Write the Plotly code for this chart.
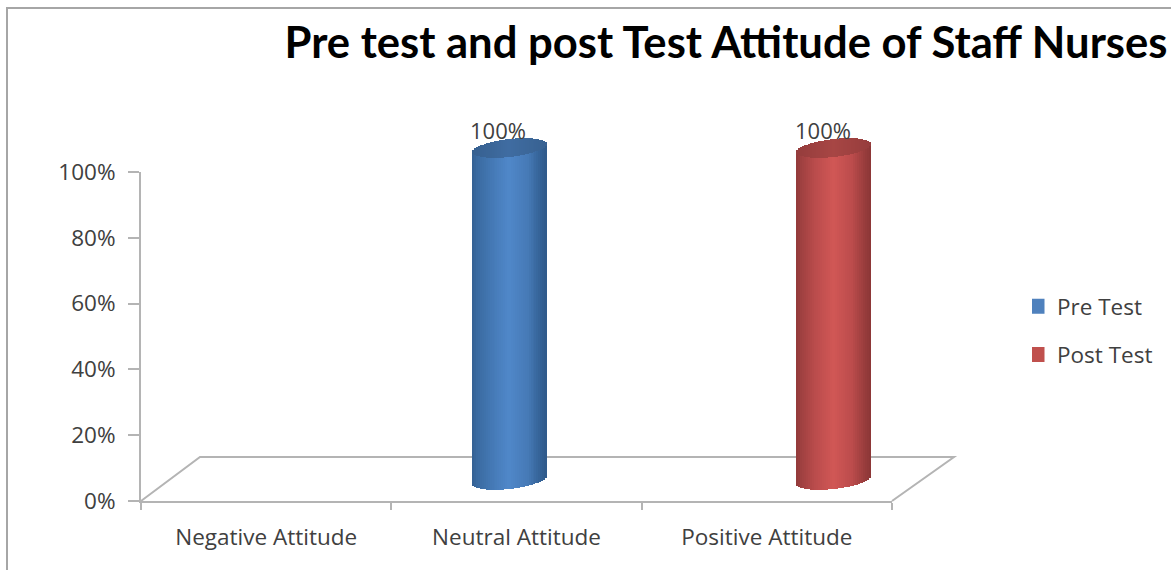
import numpy as np
import plotly.graph_objects as go

# ---- data ----
categories = ["Negative Attitude", "Neutral Attitude", "Positive Attitude"]
pre_test = [0, 100, 0]
post_test = [0, 0, 100]
y_ticks = [0, 20, 40, 60, 80, 100]
y_labels = ["0%", "20%", "40%", "60%", "80%", "100%"]
title_text = "Pre test and post Test Attitude of Staff Nurses"

# ---- layout constants (pixels) ----
W, H = 1171, 570
AX_L, AX_R, AX_T, AX_B = 141, 892, 172, 501
DX = 30                # sideways shift of the 3-D bars
Y0_PX, Y100_PX = 480, 148
BAR_W = 0.296
N = 38
RY = 9 * 100 / (Y0_PX - Y100_PX)
TILT = 4 * 100 / (Y0_PX - Y100_PX)
FONT = "Open Sans"
INK = "#404040"
GRID = "#b4b4b4"

STOP_T = [0, 0.06, 0.25, 0.5, 0.75, 0.93, 1]
BLUE = [(52, 96, 146), (58, 106, 160), (68, 120, 180), (80, 136, 202), (70, 122, 182), (52, 98, 150), (48, 90, 138)]
RED = [(146, 58, 58), (158, 64, 64), (186, 76, 76), (210, 88, 86), (188, 76, 76), (150, 60, 60), (140, 54, 54)]
CAP = 0.8


def shade(stops, t, k=1.0):
    rgb = [np.interp(t, STOP_T, [s[i] for s in stops]) * k for i in range(3)]
    return "rgb(%d,%d,%d)" % tuple(int(v) for v in rgb)


def cylinder(values, side, stops):
    """Body and cap slices of the cylinders for one series."""
    body = dict(x=[], y=[], base=[], color=[])
    cap = dict(x=[], y=[], base=[], color=[])
    for i, v in enumerate(values):
        if not v:
            continue
        centre = i + side * BAR_W / 2
        for k in range(N):
            t = (k + 0.5) / N
            u = 2 * t - 1
            arc = RY * np.sqrt(1 - u * u)
            lean = TILT * u
            x = centre + u * BAR_W / 2
            body["x"].append(x)
            body["base"].append(lean - arc)
            body["y"].append(v + arc)
            body["color"].append(shade(stops, t))
            cap["x"].append(x)
            cap["base"].append(v + lean - arc)
            cap["y"].append(2 * arc)
            cap["color"].append(shade(stops, 0.25 + 0.5 * t, CAP))
    return body, cap


fig = go.Figure()

# legend entries, which also carry the visible axes
for name, colour in [("Pre Test", "#4f81bd"), ("Post Test", "#c0504d")]:
    fig.add_trace(go.Bar(x=list(range(3)), y=[None] * 3, name=name,
                         marker=dict(color=colour, line=dict(color=colour, width=3)),
                         legendgroup=name, xaxis="x", yaxis="y"))

for vals, side, stops, name in [(pre_test, -1, BLUE, "Pre Test"), (post_test, 1, RED, "Post Test")]:
    body, cap = cylinder(vals, side, stops)
    for part in (body, cap):
        fig.add_trace(go.Bar(x=part["x"], y=part["y"], base=part["base"],
                             width=BAR_W / N * 1.35, marker=dict(color=part["color"], line_width=0),
                             showlegend=False, legendgroup=name, hoverinfo="skip",
                             xaxis="x2", yaxis="y2"))

# data labels
for vals, side in [(pre_test, -1), (post_test, 1)]:
    for i, v in enumerate(vals):
        if v:
            fig.add_annotation(x=i + side * BAR_W / 2, y=v, xref="x2", yref="y2", text=f"{v}%",
                               showarrow=False, xshift=-11, yshift=18,
                               font=dict(family=FONT, size=22, color=INK))

px_x = lambda p: p / W
px_y = lambda p: 1 - p / H

# floor of the 3-D chart
floor = [(AX_L, AX_B), (200, 457), (954, 457), (AX_R, AX_B)]
path = "M " + " L ".join(f"{px_x(a):.5f},{px_y(b):.5f}" for a, b in floor)
fig.add_shape(type="path", path=path, xref="paper", yref="paper", layer="below",
              line=dict(color=GRID, width=2))
# outer frame
frame = [(7, 570), (7, 8), (1171, 8)]
path = "M " + " L ".join(f"{px_x(a):.5f},{px_y(b):.5f}" for a, b in frame)
fig.add_shape(type="path", path=path, xref="paper", yref="paper", layer="below",
              line=dict(color="#a6a6a6", width=2))

per_px = 100 / (Y0_PX - Y100_PX)
Y2_TOP, Y2_BOT = 125, 500

fig.update_layout(
    width=W, height=H, autosize=False,
    margin=dict(l=0, r=0, t=0, b=0, autoexpand=False),
    paper_bgcolor="white", plot_bgcolor="rgba(0,0,0,0)",
    barmode="overlay", bargap=0,
    font=dict(family=FONT, color=INK),
    title=dict(text=f"<b>{title_text}</b>", x=726 / W, y=px_y(43), xref="paper", yref="paper",
               xanchor="center", yanchor="middle",
               font=dict(family="Lato", size=43.6, color="#000000")),
    xaxis=dict(domain=[px_x(AX_L), px_x(AX_R)], range=[-0.5, 2.5], tickmode="array",
               tickvals=list(range(3)), ticktext=categories, ticks="", showgrid=False, automargin=False,
               showline=True, linecolor=GRID, linewidth=2, zeroline=False, ticklabelstandoff=15,
               tickfont=dict(family=FONT, size=22.5, color=INK), fixedrange=True,
               minor=dict(tickmode="array", tickvals=[-0.5, 0.5, 1.5, 2.5], ticks="outside",
                          ticklen=7, tickwidth=2, tickcolor=GRID, showgrid=False)),
    yaxis=dict(domain=[px_y(AX_B), px_y(AX_T)], range=[0, 100], tickmode="array", automargin=False,
               tickvals=y_ticks, ticktext=y_labels, ticks="outside", ticklen=11, tickwidth=2,
               tickcolor=GRID, showgrid=False, showline=True, linecolor=GRID, linewidth=2,
               zeroline=False, ticklabelstandoff=8, fixedrange=True,
               tickfont=dict(family=FONT, size=22.5, color=INK)),
    xaxis2=dict(domain=[px_x(AX_L + DX), px_x(AX_R + DX)], range=[-0.5, 2.5], visible=False,
                anchor="y2", fixedrange=True, automargin=False),
    yaxis2=dict(domain=[px_y(Y2_BOT), px_y(Y2_TOP)],
                range=[(Y0_PX - Y2_BOT) * per_px, (Y0_PX - Y2_TOP) * per_px], visible=False,
                anchor="x2", fixedrange=True, automargin=False),
    legend=dict(x=1032 / W, y=px_y(285), xanchor="left", yanchor="top", tracegroupgap=16,
                indentation=-15,
                bgcolor="rgba(0,0,0,0)", font=dict(family=FONT, size=22.5, color=INK)),
)

fig.write_html("out.html", config={"displayModeBar": False},
               post_script="document.body.style.margin='0';")
